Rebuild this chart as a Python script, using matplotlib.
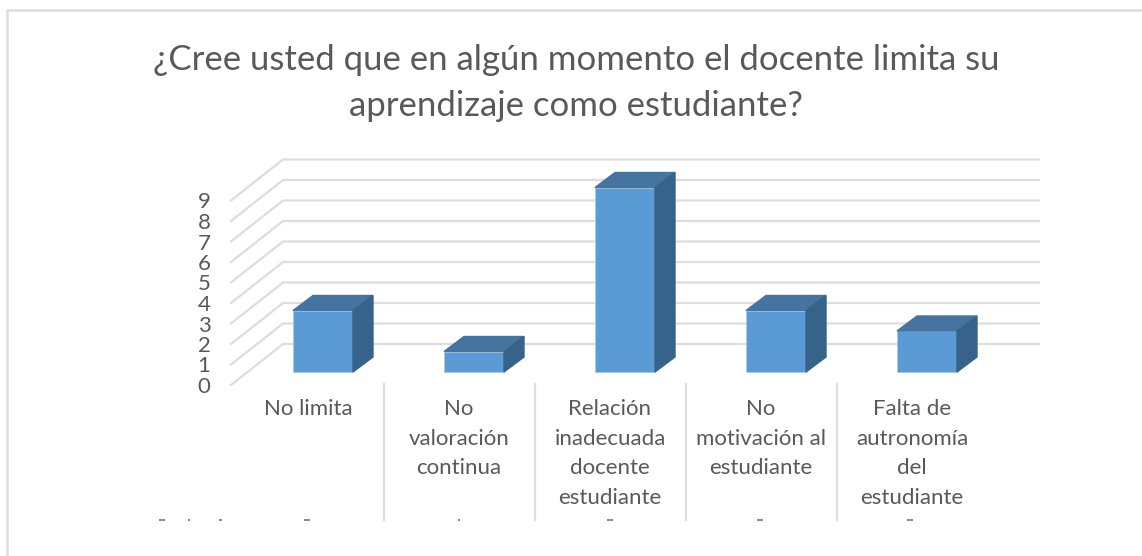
import numpy as np
import matplotlib
matplotlib.use('Agg')
import matplotlib.pyplot as plt

plt.rcParams['font.family'] = ['Lato', 'DejaVu Sans']

title_lines = ['¿Cree usted que en algún momento el docente limita su', 'aprendizaje como estudiante?']
categories = ['No limita', 'No\nvaloración\ncontinua', 'Relación\ninadecuada\ndocente\nestudiante',
              'No\nmotivación al\nestudiante', 'Falta de\nautronomía\ndel\nestudiante']
values = [3, 1, 9, 3, 2]
yticks = [0, 1, 2, 3, 4, 5, 6, 7, 8, 9]

W, H = 1142, 556
# pixel positions of the bar plane
x0, xstep = 323, 151
y0, ystep = 372, 20.5
bar_w = 60 / xstep
# depth of a bar, and of the floor in front/behind the bars
dx, dy = 20 / xstep, 15 / ystep
floor_front = -13 / ystep
floor_back = 28 / ystep
wall_left = (283 - x0) / xstep
wall_right = (1039 - x0) / xstep
front_left = (231 - x0) / xstep

grey = '#595959'
grid = '#DDDDDD'

# helpers to go from picture pixels to the data scale, for text and frame only
def px(x):
    return (x - x0) / xstep

def py(y):
    return (y0 - y) / ystep

fig = plt.figure(figsize=(W / 100, H / 100), dpi=100)
ax = fig.add_axes([0, 0, 1, 1])
ax.set_xlim(px(0), px(W))
ax.set_ylim(py(H), py(0))
ax.axis('off')

# chart frame, open on the right
ax.plot([px(7), px(7), px(W)], [py(555), py(10), py(10)], color=grid, lw=1.8, zorder=1)

# back wall lines and side wall lines
for v in yticks:
    ax.plot([front_left, wall_left, wall_right],
            [v + floor_front, v + floor_back, v + floor_back],
            color=grid, lw=1.6, zorder=1)
    ax.text(px(204), v + floor_front, str(v), ha='center', va='center_baseline',
            fontsize=16, color=grey)

# bars
xs = np.arange(len(values))
ax.bar(xs, values, width=bar_w, color='#5B9BD5', edgecolor='#A9C9E6', linewidth=0.6, zorder=3)
for x, v in zip(xs, values):
    l, r = x - bar_w / 2, x + bar_w / 2
    ax.fill([l, r, r + dx, l + dx], [v, v, v + dy, v + dy], color='#44749F', zorder=3)
    ax.fill([r, r + dx, r + dx, r], [0, dy, v + dy, v], color='#37638A', zorder=3)

# category labels, separators
for x, lab in zip(xs, categories):
    for n, line in enumerate(lab.split('\n')):
        ax.text(x - 15 / xstep, py(407 + n * 29.7), line, ha='center', va='center_baseline',
                fontsize=16, color=grey)
    if x < len(xs) - 1:
        ax.plot([x + 61 / xstep] * 2, [py(384), py(520)], color=grid, lw=1.6, zorder=1)

# tops of the next text row, cut off by the chart edge
for xc, w in [(162, 6), (189, 2), (220, 3), (307, 6), (459, 2), (610, 6), (760, 6), (910, 6)]:
    ax.plot([px(xc - w / 2), px(xc + w / 2)], [py(520)] * 2, color='#777777', lw=1.2,
            solid_capstyle='butt', zorder=2)

for n, line in enumerate(title_lines):
    ax.text(px(576), py(57 + n * 46.5), line, ha='center', va='center_baseline', fontsize=25, color=grey)

fig.savefig('out.png', dpi=100)
